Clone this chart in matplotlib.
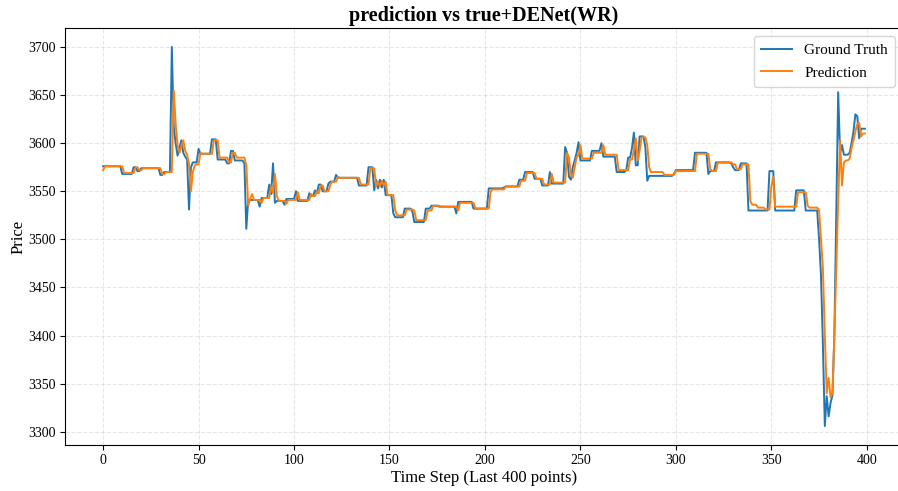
import numpy as np
import matplotlib
matplotlib.use("Agg")
import matplotlib.pyplot as plt

# ground truth, run-length encoded: value and how many steps it holds
true_vals = [3576, 3568, 3575, 3571, 3574, 3567, 3570, 3700, 3617, 3600, 3587, 3595,
             3603, 3590, 3586, 3583, 3531, 3575, 3580, 3594, 3589, 3604, 3583, 3579,
             3592, 3582, 3579, 3511, 3541, 3534, 3543, 3557, 3547, 3579, 3538, 3540,
             3536, 3542, 3550, 3540, 3548, 3545, 3551, 3548, 3557, 3550, 3558, 3560,
             3567, 3564, 3556, 3575, 3551, 3562, 3553, 3562, 3554, 3562, 3546, 3527,
             3523, 3532, 3529, 3518, 3532, 3535, 3534, 3527, 3539, 3532, 3553, 3554,
             3555, 3562, 3570, 3563, 3556, 3570, 3558, 3596, 3590, 3565, 3562, 3575,
             3582, 3590, 3601, 3582, 3592, 3600, 3586, 3570, 3572, 3585, 3595, 3611,
             3577, 3607, 3596, 3561, 3566, 3568, 3572, 3590, 3568, 3571, 3580, 3579,
             3575, 3572, 3579, 3530, 3571, 3530, 3551, 3530, 3500, 3462, 3390, 3306,
             3337, 3316, 3330, 3338, 3400, 3530, 3653, 3590, 3598, 3588, 3590, 3600,
             3612, 3630, 3628, 3605, 3615]
true_lens = [10, 6, 2, 2, 10, 2, 4, 1, 1, 1, 1, 1,
             1, 1, 1, 1, 1, 1, 3, 1, 6, 3, 5, 2,
             2, 5, 1, 1, 6, 1, 4, 1, 1, 1, 1, 4,
             1, 5, 1, 6, 1, 2, 1, 1, 2, 3, 1, 3,
             1, 11, 5, 3, 1, 1, 1, 1, 1, 1, 4, 1,
             5, 4, 1, 6, 3, 4, 9, 1, 8, 8, 8, 1,
             7, 3, 5, 4, 4, 1, 7, 1, 1, 1, 1, 1,
             1, 1, 1, 6, 5, 1, 7, 5, 1, 2, 1, 1,
             2, 3, 1, 1, 13, 1, 10, 7, 1, 3, 8, 1,
             1, 3, 4, 11, 3, 11, 5, 7, 1, 1, 1, 1,
             1, 1, 1, 1, 1, 1, 1, 1, 1, 3, 1, 1,
             1, 1, 1, 1, 3]

# model prediction, same encoding
pred_vals = [3572, 3576, 3569, 3575, 3572, 3574, 3568, 3570, 3655, 3620, 3598, 3590,
             3597, 3603, 3592, 3588, 3578, 3550, 3570, 3577, 3578, 3590, 3589, 3603,
             3585, 3580, 3590, 3585, 3577, 3535, 3542, 3547, 3541, 3538, 3543, 3555,
             3548, 3568, 3545, 3540, 3537, 3541, 3549, 3541, 3547, 3545, 3550, 3548,
             3556, 3550, 3557, 3560, 3565, 3564, 3557, 3574, 3555, 3560, 3555, 3561,
             3556, 3560, 3546, 3530, 3525, 3531, 3530, 3520, 3530, 3535, 3534, 3530,
             3538, 3532, 3550, 3552, 3555, 3561, 3569, 3563, 3557, 3568, 3559, 3590,
             3585, 3568, 3564, 3575, 3585, 3588, 3598, 3584, 3590, 3598, 3588, 3572,
             3583, 3593, 3605, 3582, 3592, 3606, 3598, 3575, 3570, 3567, 3571, 3589,
             3573, 3571, 3580, 3578, 3573, 3578, 3540, 3536, 3533, 3531, 3555, 3565,
             3534, 3549, 3535, 3533, 3530, 3500, 3470, 3400, 3340, 3356, 3336,
             3340, 3400, 3470, 3540, 3603, 3556, 3580, 3582, 3584, 3595, 3603, 3612,
             3620, 3621, 3607, 3610]
pred_lens = [1, 10, 6, 2, 2, 10, 2, 4, 1, 1, 1, 1,
             1, 1, 1, 1, 1, 1, 1, 1, 2, 1, 6, 3,
             5, 2, 2, 5, 1, 1, 1, 1, 4, 1, 4, 1,
             1, 1, 1, 4, 1, 5, 1, 6, 1, 2, 1, 1,
             2, 3, 1, 3, 1, 11, 5, 3, 1, 1, 1, 1,
             1, 1, 4, 1, 5, 4, 1, 6, 3, 4, 9, 1,
             8, 8, 1, 7, 8, 3, 5, 4, 4, 1, 7, 1,
             1, 1, 1, 1, 1, 1, 1, 6, 5, 1, 7, 6,
             2, 1, 1, 1, 1, 3, 1, 1, 7, 6, 11, 7,
             1, 3, 8, 2, 3, 4, 1, 3, 4, 3, 1, 1,
             12, 5, 1, 5, 1, 1, 1, 1, 1, 1, 1,
             1, 1, 1, 1, 1, 1, 1, 2, 1, 1, 1, 1,
             1, 1, 1, 2]

y_true = np.repeat(true_vals, true_lens)
y_pred = np.repeat(pred_vals, pred_lens)

plt.rcParams["font.family"] = ["Liberation Serif", "DejaVu Serif"]

fig = plt.figure(figsize=(8.98, 4.91), dpi=100)
# the original image is cut off a few pixels past the right spine
ax = fig.add_axes([65 / 898, 46 / 491, 838 / 898, 417 / 491])
ax.plot(np.arange(len(y_true)), y_true, color="#1f77b4", lw=1.4, label="Ground Truth")
ax.plot(np.arange(len(y_pred)), y_pred, color="#ff7f0e", lw=1.4, label="Prediction")
ax.set_title("prediction vs true+DENet(WR)", fontsize=14.5, fontweight="bold", pad=5)
ax.set_xlabel("Time Step (Last 400 points)", fontsize=12, labelpad=2)
ax.set_ylabel("Price", fontsize=12, labelpad=1)
ax.tick_params(labelsize=10, pad=3)
ax.grid(True, linestyle="--", alpha=0.3)
ax.legend(loc="upper right", fontsize=11, borderpad=0.5, labelspacing=0.6)
fig.savefig("out.png", dpi=100)
